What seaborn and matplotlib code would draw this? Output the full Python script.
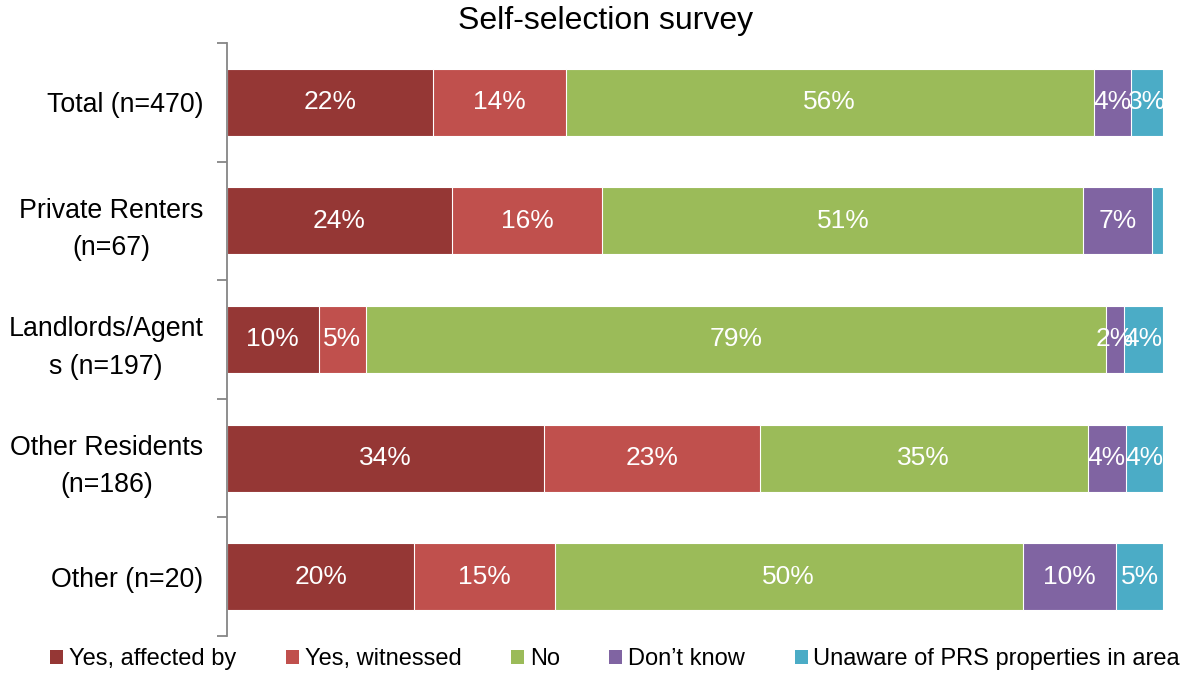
import matplotlib
matplotlib.use("Agg")
import matplotlib.pyplot as plt
from matplotlib.patches import Patch
import seaborn as sns
import numpy as np
import pandas as pd

categories = ["Total (n=470)", "Private Renters\n(n=67)", "Landlords/Agent\ns (n=197)",
              "Other Residents\n(n=186)", "Other (n=20)"]
series_names = ["Yes, affected by", "Yes, witnessed", "No", "Don\u2019t know",
                "Unaware of PRS properties in area"]
yes_affected = [22.0, 24.0, 9.8, 33.9, 20.0]
yes_witnessed = [14.2, 16.1, 5.0, 23.0, 15.0]
no = [56.4, 51.4, 79.1, 35.1, 50.0]
dont_know = [4.0, 7.3, 1.9, 4.0, 10.0]
unaware = [3.4, 1.2, 4.2, 4.0, 5.0]
colors = ["#953735", "#C0504D", "#9BBB59", "#8064A2", "#4BACC6"]

sns.set_style("white")
plt.rcParams["font.family"] = ["Liberation Sans", "DejaVu Sans"]
plt.rcParams["text.color"] = "black"
plt.rcParams["ytick.color"] = "black"
plt.rcParams["ytick.labelcolor"] = "black"

series = [yes_affected, yes_witnessed, no, dont_know, unaware]
vals = np.array(series)
cums = np.cumsum(vals, axis=0)

fig = plt.figure(figsize=(11.81, 6.74), dpi=100)
ax = fig.add_axes([227 / 1181, 1 - 636 / 674, (1163 - 227) / 1181, (636 - 43) / 674])

for j in reversed(range(len(series))):
    df = pd.DataFrame({"cat": categories, "val": cums[j]})
    sns.barplot(data=df, x="val", y="cat", orient="h", color=colors[j], saturation=1,
                width=0.565, edgecolor="white", linewidth=0.8, ax=ax)

for j in range(len(series)):
    for i in range(len(categories)):
        v = vals[j, i]
        if v < 1.5:
            continue
        ax.text(cums[j, i] - v / 2, i, f"{round(v):.0f}%", ha="center", va="center",
                color="white", fontsize=19)

ax.set_xlim(0, 100)
ax.set_ylim(len(categories) - 0.5, -0.5)
ax.set_xlabel("")
ax.set_ylabel("")
ax.set_xticks([])
for s in ["top", "right", "bottom"]:
    ax.spines[s].set_visible(False)
ax.spines["left"].set_color("#868686")
ax.spines["left"].set_linewidth(1.3)
ax.set_yticks(range(len(categories)))
ax.set_yticklabels(categories, fontsize=19.3, ha="right", multialignment="center",
                   linespacing=1.55, color="black")
ax.tick_params(axis="y", which="major", length=0, pad=17)
ax.set_yticks(np.arange(-0.5, len(categories), 1.0), minor=True)
ax.tick_params(axis="y", which="minor", left=True, length=7, width=1.3,
               color="#868686", direction="out")

fig.text(606 / 1181, 1 - 21 / 674, "Self-selection survey", ha="center", va="center",
         fontsize=23, color="black")

handles = [Patch(facecolor=c, edgecolor="none") for c in colors]
fig.legend(handles, series_names, loc="center", bbox_to_anchor=(615 / 1181, 1 - 659 / 674),
           ncol=5, frameon=False, fontsize=17, handlelength=0.55, handleheight=0.55,
           handletextpad=0.25, columnspacing=2.1, borderaxespad=0, borderpad=0)

fig.savefig("out.png", dpi=100)
